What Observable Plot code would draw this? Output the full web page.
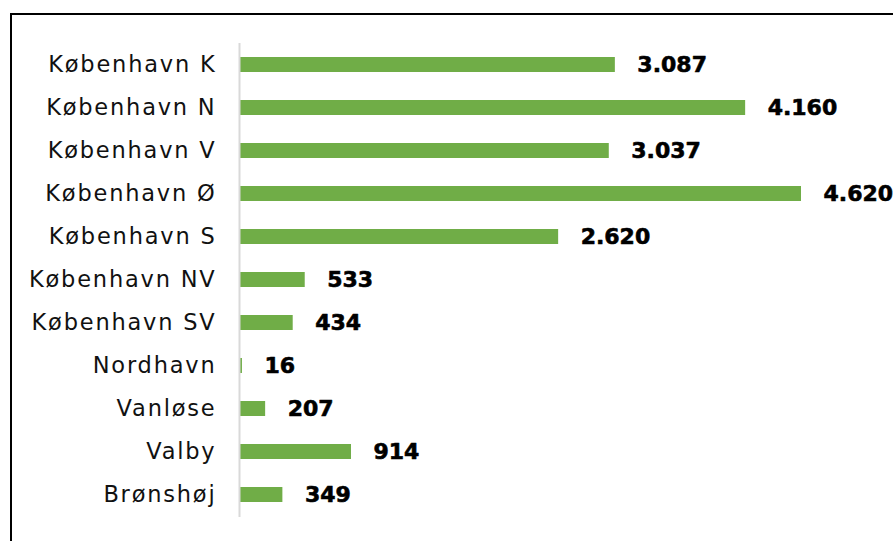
<!DOCTYPE html>
<html>
<head>
<meta charset="utf-8">
<script src="https://cdn.jsdelivr.net/npm/d3@7"></script>
<script src="https://cdn.jsdelivr.net/npm/@observablehq/plot@0.6"></script>
<style>
  html, body { margin: 0; padding: 0; background: #fff; overflow: hidden; }
  #wrap { position: relative; width: 893px; height: 541px; }
  #border { position: absolute; left: 10px; top: 13px; width: 900px; height: 600px;
            border-left: 2px solid #000; border-top: 2px solid #000; box-sizing: border-box; pointer-events: none; }
  #chart svg .ylab text { letter-spacing: 1.8px; }
</style>
</head>
<body>
<div id="wrap"><div id="chart"></div><div id="border"></div></div>
<script>
const categories = ["København K", "København N", "København V", "København Ø", "København S",
  "København NV", "København SV", "Nordhavn", "Vanløse", "Valby", "Brønshøj"];
const values = [3087, 4160, 3037, 4620, 2620, 533, 434, 16, 207, 914, 349];
const valueLabels = ["3.087", "4.160", "3.037", "4.620", "2.620", "533", "434", "16", "207", "914", "349"];

const data = categories.map((c, i) => ({cat: c, value: values[i], label: valueLabels[i]}));

const chart = Plot.plot({
  width: 893,
  height: 541,
  marginLeft: 240,
  marginRight: 92,
  marginTop: 43,
  marginBottom: 24,
  style: {fontFamily: "DejaVu Sans", background: "transparent", overflow: "visible"},
  x: {domain: [0, 4620], axis: null},
  y: {domain: categories, paddingInner: 0.65, paddingOuter: 0.325, label: null},
  marks: [
    Plot.barX(data, {y: "cat", x: "value", fill: "#70ad47"}),
    Plot.ruleX([0], {stroke: "#d9d9d9", strokeWidth: 2, dx: -1}),
    Plot.axisY({tickSize: 0, tickPadding: 24, fontSize: 22.5, fill: "#111", className: "ylab"}),
    Plot.text(data, {y: "cat", x: "value", text: "label", dx: 22, textAnchor: "start",
      fontSize: 22, fontWeight: "bold", fill: "#000", stroke: "#000", strokeWidth: 0.6})
  ]
});
document.getElementById("chart").appendChild(chart);
</script>
</body>
</html>
